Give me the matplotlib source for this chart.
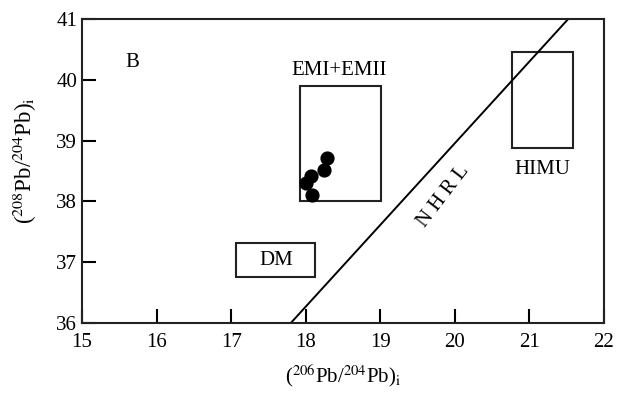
import matplotlib
matplotlib.use("Agg")
import matplotlib.pyplot as plt
from matplotlib.patches import Rectangle

plt.rcParams['font.family'] = ['Liberation Serif', 'DejaVu Serif']
plt.rcParams['mathtext.fontset'] = 'stix'

# data points
x_pts = [18.01, 18.07, 18.09, 18.25, 18.29]
y_pts = [38.31, 38.41, 38.10, 38.51, 38.71]

# reservoir fields
field_names = ["EMI+EMII", "DM", "HIMU"]
field_x0 = [17.93, 17.06, 20.76]
field_x1 = [19.01, 18.13, 21.58]
field_y0 = [38.00, 36.76, 38.88]
field_y1 = [39.89, 37.32, 40.45]
label_x = [18.45, 17.60, 21.17]
label_y = [40.15, 37.02, 38.52]

# NHRL line
nhrl_x = [17.80, 21.52]
nhrl_y = [36.0, 41.0]

xticks = [15, 16, 17, 18, 19, 20, 21, 22]
yticks = [36, 37, 38, 39, 40, 41]

fig = plt.figure(figsize=(6.21, 3.95), dpi=100)
ax = fig.add_axes([82/621, 1-323/395, 522/621, 304/395])

ax.set_xlim(15, 22)
ax.set_ylim(36, 41)

for a0, a1, b0, b1 in zip(field_x0, field_x1, field_y0, field_y1):
    ax.add_patch(Rectangle((a0, b0), a1 - a0, b1 - b0, fill=False,
                           edgecolor='#222222', linewidth=1.5))
for n, lx, ly in zip(field_names, label_x, label_y):
    ax.text(lx, ly, n, ha='center', va='center', fontsize=15)

ax.plot(nhrl_x, nhrl_y, color='black', linewidth=1.4)
ax.text(19.85, 38.08, "N H R L", rotation=52.5, ha='center', va='center', fontsize=15)

ax.scatter(x_pts, y_pts, s=85, color='black', zorder=5)

ax.text(15.68, 40.28, "B", ha='center', va='center', fontsize=15)

ax.set_xticks(xticks)
ax.set_yticks(yticks)
ax.tick_params(direction='in', length=10, width=1.5, labelsize=15,
               top=False, right=False)
ax.tick_params(axis='x', pad=7)
ax.tick_params(axis='y', pad=3.5)
for s in ax.spines.values():
    s.set_linewidth(1.5)
    s.set_color('#222222')

ax.set_xlabel(r'($^{206}$Pb/$^{204}$Pb)$_{\rm i}$', fontsize=15, labelpad=8)
ax.set_ylabel(r'($^{208}$Pb/$^{204}$Pb)$_{\rm i}$', fontsize=16.5)
ax.yaxis.set_label_coords(-0.083, 0.536)

fig.savefig("out.png", dpi=100)
